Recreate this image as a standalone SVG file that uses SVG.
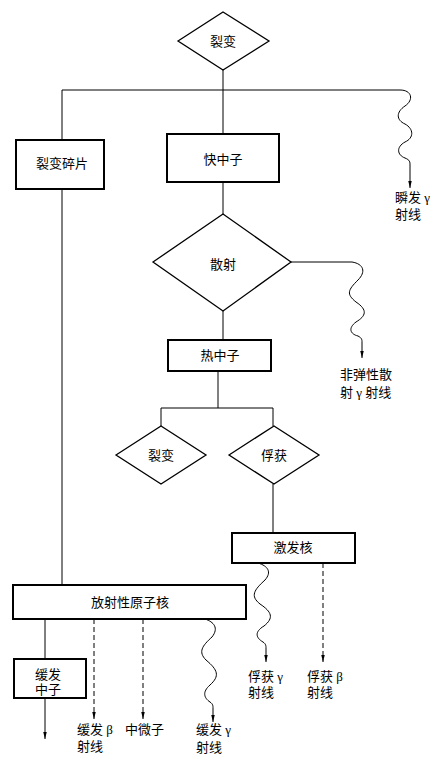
<svg xmlns="http://www.w3.org/2000/svg" width="440" height="762" viewBox="0 0 440 762">
<style>
.box{fill:#fff;stroke:#000;stroke-width:2}
.dia{fill:#fff;stroke:#000;stroke-width:1.3}
.ln{fill:none;stroke:#000;stroke-width:1}
.ar{marker-end:url(#arr)}
.ds{stroke-dasharray:5 3}
text{font-family:"Liberation Serif","Noto Sans CJK SC",serif;font-size:13px;fill:#000}
.c{text-anchor:middle}
</style>
<defs>
<marker id="arr" viewBox="0 0 8 4" refX="8" refY="2" markerWidth="7" markerHeight="4" orient="auto" markerUnits="userSpaceOnUse"><path d="M0,0 L8,2 L0,4 z" fill="#000"/></marker>
</defs>
<rect width="440" height="762" fill="#fff"/>
<g id="connectors">
<path class="ln" d="M223,70 V134"/>
<path class="ln ar" d="M62,140 V90 H400 C412,90 414,100 405,106 C396,112 396,120 405,124 C414,129 414,138 405,142 C396,147 397,155 405,158 C410,160 410,162 410,165 V188"/>
<path class="ln" d="M62,189 V585"/>
<path class="ln" d="M223,182 V214"/>
<path class="ln ar" d="M291,262 H352 C364,264 366,272 358,280 C348,290 346,294 356,302 C368,310 366,316 356,322 C348,328 350,334 358,336 C362,338 362,340 362,342 V358"/>
<path class="ln" d="M223,311 V340"/>
<path class="ln" d="M218,371 V408 M161,426 V408 H273 V426"/>
<path class="ln" d="M273,484 V533"/>
<path class="ln ar" d="M258,563 C268,566 272,572 265,580 C254,590 250,596 260,604 C272,612 274,618 264,626 C254,632 256,638 263,642 C266,644 266,646 266,648 V662"/>
<path class="ln ds ar" d="M323,563 V662"/>
<path class="ln" d="M45,619 V659"/>
<path class="ln ar" d="M45,698 V739"/>
<path class="ln ds ar" d="M94,619 V719"/>
<path class="ln ds ar" d="M143,619 V719"/>
<path class="ln ar" d="M205,619 C214,622 219,628 212,637 C202,646 198,652 206,660 C218,670 220,676 210,685 C202,692 204,698 210,702 C213,704 213,706 213,708 V722"/>
</g>
<g id="n1"><polygon class="dia" points="178,41 223,12 269,41 223,70"/><text class="c" x="223" y="46">裂变</text></g>
<g id="n2"><rect class="box" x="16" y="140" width="88" height="49"/><text class="c" x="62" y="168">裂变碎片</text></g>
<g id="n3"><rect class="box" x="167" y="134" width="112" height="48"/><text class="c" x="223" y="164">快中子</text></g>
<g id="n4"><text x="395" y="202">瞬发 γ</text><text x="395" y="219">射线</text></g>
<g id="n5"><polygon class="dia" points="153,262 223,214 291,262 223,311"/><text class="c" x="223" y="269">散射</text></g>
<g id="n6"><text x="340" y="379">非弹性散</text><text x="340" y="397">射 γ 射线</text></g>
<g id="n7"><rect class="box" x="168" y="340" width="103" height="31"/><text class="c" x="220" y="360">热中子</text></g>
<g id="n8"><polygon class="dia" points="116,455 161,426 206,455 161,484"/><text class="c" x="161" y="460">裂变</text></g>
<g id="n9"><polygon class="dia" points="229,455 274,426 319,455 274,484"/><text class="c" x="274" y="460">俘获</text></g>
<g id="n10"><rect class="box" x="232" y="533" width="123" height="30"/><text class="c" x="293" y="552">激发核</text></g>
<g id="n11"><text x="248" y="681">俘获 γ</text><text x="248" y="697">射线</text></g>
<g id="n12"><text x="307" y="681">俘获 β</text><text x="307" y="697">射线</text></g>
<g id="n13"><rect class="box" x="13" y="585" width="233" height="34"/><text class="c" x="130" y="607">放射性原子核</text></g>
<g id="n14"><rect class="box" x="14" y="659" width="72" height="39"/><text class="c" x="48" y="679">缓发</text><text class="c" x="48" y="694">中子</text></g>
<g id="n15"><text x="77" y="734">缓发 β</text><text x="77" y="751">射线</text></g>
<g id="n16"><text x="125" y="734">中微子</text></g>
<g id="n17"><text x="196" y="734">缓发 γ</text><text x="196" y="752">射线</text></g>
</svg>
